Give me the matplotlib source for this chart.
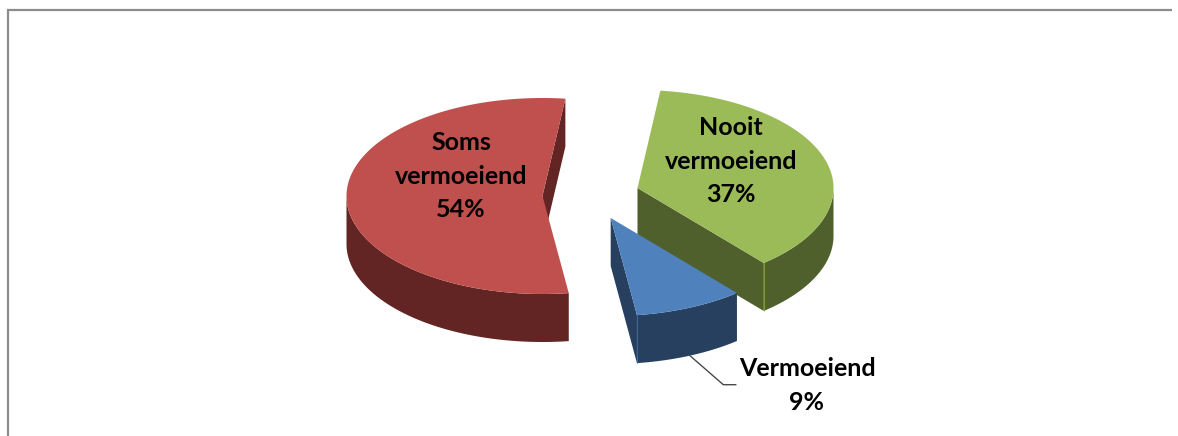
import numpy as np
import matplotlib
matplotlib.use("Agg")
import matplotlib.pyplot as plt
from matplotlib.patches import Polygon

# --- data ---
categories = ["Nooit\nvermoeiend", "Vermoeiend", "Soms\nvermoeiend"]
percentages = [37, 9, 54]

# --- styles / layout (pixels of the 1178x436 canvas) ---
top_colors = ["#9BBB59", "#4F81BD", "#C0504D"]
side_colors = ["#50602D", "#274060", "#632523"]
slice_centers = [(637.5, 188), (610.7, 218), (542.5, 196)]
label_pos = [(731, 161), (807, 385.5), (461, 176)]
A, B, DEPTH = 196, 98, 48
START_DEG = 6.7
FONT = "Lato"
W, H = 1178, 436

fig = plt.figure(figsize=(W / 100, H / 100), dpi=100, facecolor="white")
ax = fig.add_axes([0, 0, 1, 1])
ax.set_xlim(0, W)
ax.set_ylim(H, 0)
ax.axis("off")


def pt(c, t, dz=0):
    return (c[0] + A * np.sin(t), c[1] - B * np.cos(t) + dz)


def rim(c, t0, t1, dz=0):
    t = np.linspace(t0, t1, max(2, int(abs(t1 - t0) * 60)))
    return np.column_stack([c[0] + A * np.sin(t), c[1] - B * np.cos(t) + dz])


ax.plot([7.5, 7.5, 1171.5], [H, 10.5, 10.5], color="#8C8C8C", lw=1.6, solid_capstyle="butt",
        solid_joinstyle="miter", zorder=1)

edges = np.cumsum([0] + percentages) / sum(percentages) * 2 * np.pi + np.deg2rad(START_DEG)

# draw back to front: red, green, blue
for order, i in enumerate([2, 0, 1]):
    c = slice_centers[i]
    t0, t1 = edges[i], edges[i + 1]
    z = 10 + order * 5
    # cut faces (start edge: outward normal is the pie angle minus 90 deg; end edge: plus 90 deg)
    for t, sgn in ((t0, -1), (t1, 1)):
        normal_t = t + sgn * np.pi / 2
        if -np.cos(normal_t) > 0:  # faces the viewer
            p = pt(c, t)
            ax.add_patch(Polygon([c, p, (p[0], p[1] + DEPTH), (c[0], c[1] + DEPTH)],
                                 closed=True, fc=side_colors[i], ec="none", zorder=z))
    # outer wall: the part of the rim on the front half
    lo, hi = max(t0, np.pi / 2), min(t1, 3 * np.pi / 2)
    if hi > lo:
        upper = rim(c, lo, hi)
        lower = rim(c, hi, lo, DEPTH)
        ax.add_patch(Polygon(np.vstack([upper, lower]), closed=True, fc=side_colors[i], ec="none", zorder=z + 1))
        if hi == t1:
            p = pt(c, t1)
            ax.plot([p[0], p[0]], [p[1], p[1] + DEPTH], color=top_colors[i], lw=0.7, alpha=0.6, zorder=z + 2)
    # top face
    ax.add_patch(Polygon(np.vstack([[c], rim(c, t0, t1)]), closed=True, fc=top_colors[i], ec="none", zorder=z + 3))

ax.plot([690, 723.3, 735.7], [355.7, 384.7, 384.7], color="#4A4A4A", lw=1.0, zorder=30)

for lab, pct, (x, y) in zip(categories, percentages, label_pos):
    ax.text(x, y, f"{lab}\n{pct}%", ha="center", va="center", family=FONT, fontweight="bold", fontsize=18,
            color="black", linespacing=1.575, zorder=40)

fig.savefig("out.png", dpi=100, facecolor="white")
